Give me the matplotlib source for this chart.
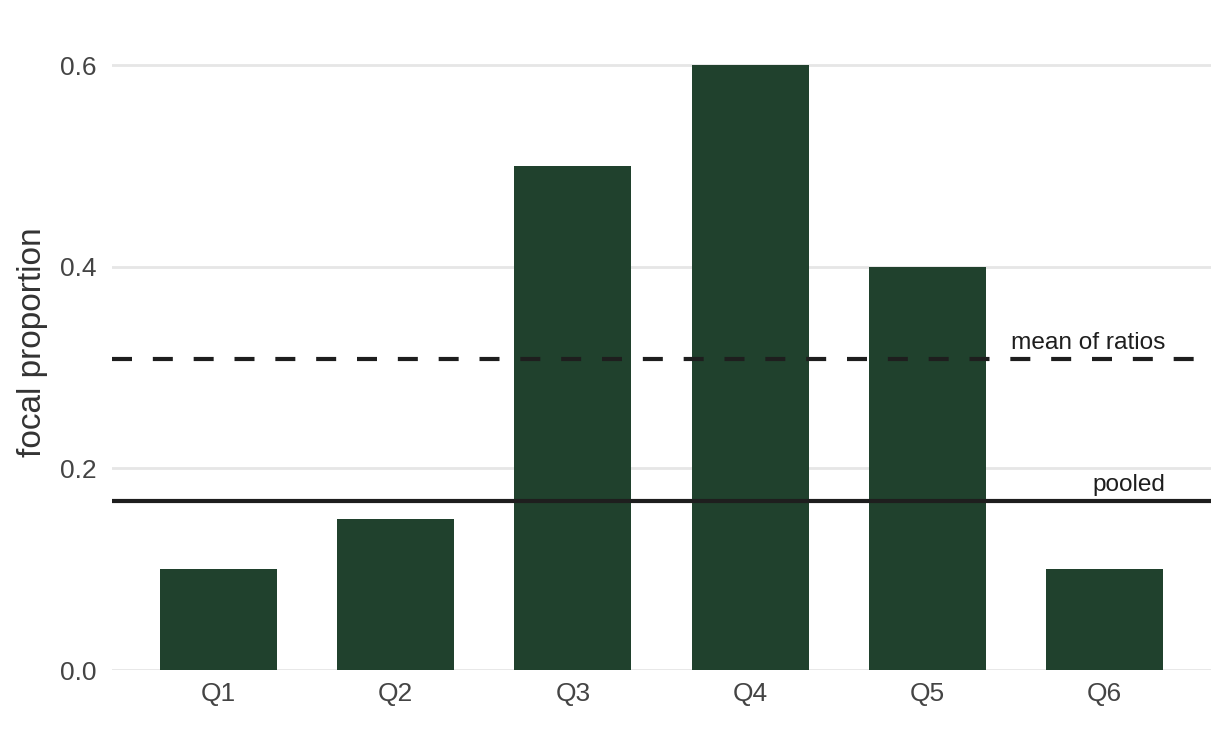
import matplotlib.pyplot as plt
import numpy as np

plt.rcParams['font.family'] = ['Liberation Sans', 'DejaVu Sans']

# data
quarters = ['Q1', 'Q2', 'Q3', 'Q4', 'Q5', 'Q6']
focal = [0.10, 0.15, 0.50, 0.60, 0.40, 0.10]
pooled = 0.168
mean_ratios = np.mean(focal)

bar_color = '#20412d'
text_color = '#444444'

fig = plt.figure(figsize=(12.28, 7.29), dpi=100)
ax = fig.add_axes([112 / 1228, 59 / 729, 1099 / 1228, 635 / 729])

x = np.arange(len(quarters))
ax.bar(x, focal, width=0.66, color=bar_color, zorder=2)

ax.axhline(mean_ratios, color='#1e1e1e', lw=3, ls=(0, (4.8, 5)), zorder=3)
ax.axhline(pooled, color='#1e1e1e', lw=3, zorder=3)
ax.text(5.34, mean_ratios + 0.005, 'mean of ratios', ha='right', va='bottom',
        fontsize=17.6, color='#1e1e1e')
ax.text(5.34, pooled + 0.005, 'pooled', ha='right', va='bottom',
        fontsize=17.6, color='#1e1e1e')

ax.set_xlim(-0.6, 5.6)
ax.set_ylim(0, 0.63)
ax.set_xticks(x)
ax.set_xticklabels(quarters)
ax.set_yticks([0.0, 0.2, 0.4, 0.6])
ax.set_yticklabels(['0.0', '0.2', '0.4', '0.6'])
ax.yaxis.grid(True, color='#e6e6e6', lw=2, zorder=0)
ax.set_axisbelow(True)
ax.tick_params(length=0, labelsize=19, labelcolor=text_color)
ax.tick_params(axis='y', pad=11)
ax.tick_params(axis='x', pad=9)
for s in ax.spines.values():
    s.set_visible(False)
ax.set_ylabel('focal proportion', fontsize=24, color='#333333')
ax.yaxis.set_label_coords(-0.058, 0.516)

fig.savefig('out.png', dpi=100, facecolor='white')
